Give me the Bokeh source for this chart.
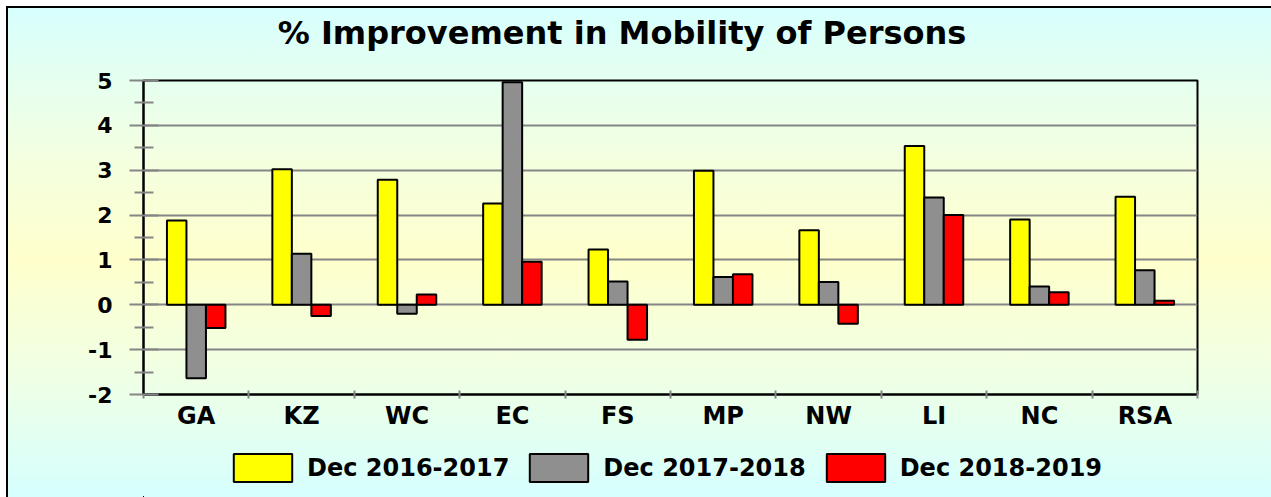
from bokeh.plotting import figure
from bokeh.models import (Range1d, FixedTicker, ColumnDataSource, Legend, LegendItem,
                          Label)
from bokeh.layouts import column
from bokeh.transform import dodge
from bokeh.embed import file_html
from bokeh.resources import INLINE

categories = ["GA", "KZ", "WC", "EC", "FS", "MP", "NW", "LI", "NC", "RSA"]
dec_2016_2017 = [1.88, 3.02, 2.79, 2.26, 1.23, 2.99, 1.66, 3.54, 1.90, 2.41]
dec_2017_2018 = [-1.64, 1.14, -0.20, 4.96, 0.52, 0.62, 0.51, 2.39, 0.41, 0.77]
dec_2018_2019 = [-0.52, -0.25, 0.23, 0.96, -0.78, 0.68, -0.42, 2.00, 0.28, 0.09]
series_labels = ["Dec 2016-2017", "Dec 2017-2018", "Dec 2018-2019"]
series_colors = ["#ffff00", "#8f8f8f", "#ff0000"]
y_ticks = [-2, -1, 0, 1, 2, 3, 4, 5]
title_text = "% Improvement in Mobility of Persons"

FONT = "DejaVu Sans"
W = 1271


def bare_figure(height, x_range=(0, 1), y_range=(0, 1)):
    f = figure(width=W, height=height, x_range=Range1d(*x_range), y_range=Range1d(*y_range),
               output_backend="svg", toolbar_location=None,
               x_axis_location=None, y_axis_location=None,
               min_border=0, background_fill_color=None, border_fill_color=None,
               outline_line_color=None)
    f.xgrid.visible = False
    f.ygrid.visible = False
    return f


# ---------- title strip ----------
tf = bare_figure(60)
tf.add_layout(Label(x=0.454, y=0.46, text=title_text, text_align="center",
                    text_baseline="middle", text_font=FONT, text_font_size="32px",
                    text_font_style="bold", text_color="black"))

# ---------- main chart ----------
centers = [i + 0.5 for i in range(len(categories))]
source = ColumnDataSource(dict(
    x=centers,
    s0=dec_2016_2017,
    s1=dec_2017_2018,
    s2=dec_2018_2019,
))

p = figure(
    width=W, height=380,
    x_range=Range1d(0, len(categories)),
    y_range=Range1d(y_ticks[0], y_ticks[-1]),
    output_backend="svg", toolbar_location=None,
    min_border_left=143, min_border_right=74,
    min_border_top=20, min_border_bottom=46,
    background_fill_color=None, border_fill_color=None,
    outline_line_color="black", outline_line_width=2,
)

bw = 0.185
offsets = [-bw, 0.0, bw]
keys = ["s0", "s1", "s2"]
for i, key in enumerate(keys):
    p.vbar(x=dodge("x", offsets[i], range=p.x_range), top=key, bottom=0, width=bw,
           source=source, fill_color=series_colors[i], line_color="black",
           line_width=2)

p.xgrid.visible = False
p.ygrid.ticker = FixedTicker(ticks=y_ticks)
p.ygrid.grid_line_color = "#858585"
p.ygrid.grid_line_width = 2

yax = p.yaxis[0]
yax.ticker = FixedTicker(ticks=y_ticks, minor_ticks=[t + 0.5 for t in y_ticks[:-1]])
yax.major_label_overrides = {t: str(t) for t in y_ticks}
yax.axis_line_color = "black"
yax.axis_line_width = 2
yax.major_tick_out = 14
yax.major_tick_in = 15
yax.major_tick_line_color = "#858585"
yax.major_tick_line_width = 2
yax.minor_tick_out = 9
yax.minor_tick_in = 10
yax.minor_tick_line_color = "#858585"
yax.minor_tick_line_width = 2
yax.major_label_text_font = FONT
yax.major_label_text_font_size = "22px"
yax.major_label_text_font_style = "bold"
yax.major_label_text_color = "black"
yax.major_label_standoff = 17

xax = p.xaxis[0]
xax.ticker = FixedTicker(ticks=centers, minor_ticks=list(range(len(categories) + 1)))
xax.major_label_overrides = {c: lab for c, lab in zip(centers, categories)}
xax.axis_line_color = "black"
xax.axis_line_width = 2
xax.major_tick_in = 0
xax.major_tick_out = 0
xax.minor_tick_in = 4
xax.minor_tick_out = 4
xax.minor_tick_line_color = "#858585"
xax.minor_tick_line_width = 2
xax.major_label_text_font = FONT
xax.major_label_text_font_size = "24px"
xax.major_label_text_font_style = "bold"
xax.major_label_text_color = "black"
xax.major_label_standoff = 3

# ---------- legend strip ----------
# Same series renderers, in a strip whose ranges lie far away from the data,
# so only their legend swatches show.
lf = bare_figure(57, x_range=(100, 101), y_range=(100, 101))
legend_renderers = [
    lf.vbar(x="x", top=key, bottom=0, width=bw, source=source,
            fill_color=c, line_color="black", line_width=2)
    for key, c in zip(keys, series_colors)
]
lg = Legend(items=[LegendItem(label=lab, renderers=[r])
                   for lab, r in zip(series_labels, legend_renderers)])
lg.orientation = "horizontal"
lg.location = (83, 12)
lg.glyph_width = 73
lg.glyph_height = 35
lg.label_text_font = FONT
lg.label_text_font_size = "24px"
lg.label_text_font_style = "bold"
lg.label_text_color = "black"
lg.spacing = 13
lg.label_standoff = 8
lg.padding = 0
lg.margin = 0
lg.background_fill_alpha = 0
lg.border_line_alpha = 0
lf.add_layout(lg, "center")

layout = column(tf, p, lf, spacing=0)
layout.styles = {
    "background": "linear-gradient(to bottom, #d6ffff 0%, #f2ffe2 30%, #ffffcc 52%, #f0ffe4 75%, #d6ffff 100%)",
    "box-shadow": "inset 6px 6px 0 0 #ffffff, inset 8px 8px 0 0 #000000",
}

open("out.html", "w").write(file_html(layout, INLINE))
